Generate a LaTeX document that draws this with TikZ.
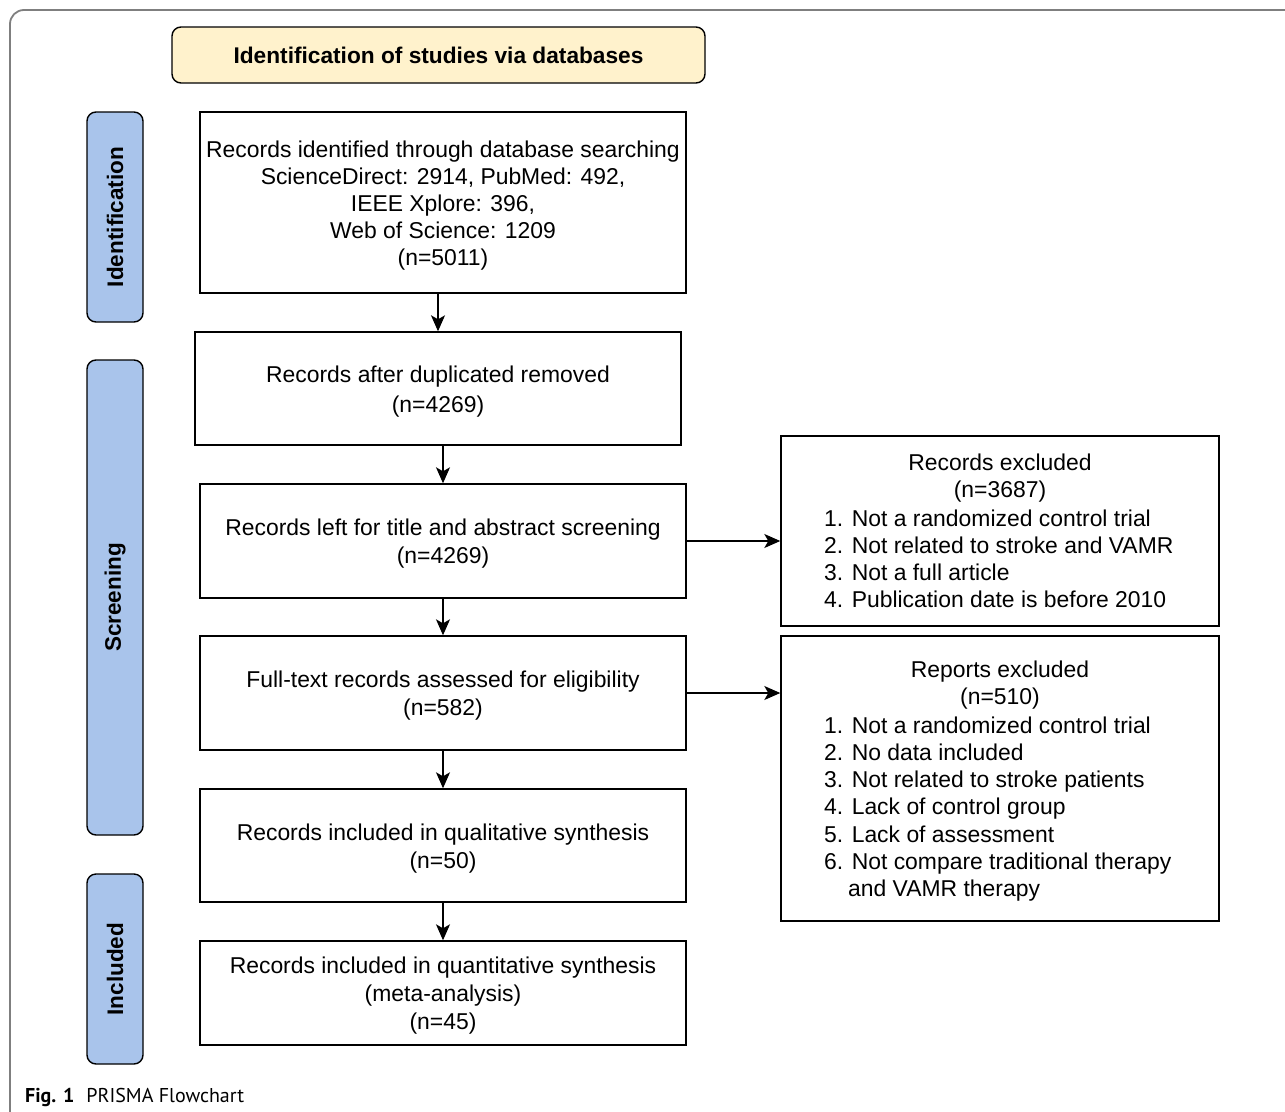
\documentclass[tikz,border=0pt]{standalone}
\usepackage{fontspec}
\setmainfont{Liberation Sans}
\newfontfamily\capfont{PT Sans}
\usetikzlibrary{arrows.meta}
\definecolor{hdrfill}{HTML}{FFF2CC}
\definecolor{sidefill}{HTML}{A9C4EB}
\definecolor{framegray}{HTML}{7F7F7F}
\begin{document}
\begin{tikzpicture}[x=1pt,y=-1pt,
  box/.style={draw=black, line width=1.4pt, rectangle, inner sep=0pt},
  hdr/.style={draw=black, line width=1.4pt, rounded corners=9pt, fill=hdrfill, inner sep=0pt,
     font=\fontsize{22.7}{27}\selectfont\bfseries},
  side/.style={draw=black, line width=1.4pt, rounded corners=9pt, fill=sidefill, inner sep=0pt,
     minimum width=56pt},
  sidetxt/.style={rotate=90, font=\fontsize{22.5}{27}\selectfont\bfseries, inner sep=0pt},
  txt/.style={inner sep=0pt, font=\fontsize{22.9}{27.2}\selectfont},
  btxt/.style={inner sep=0pt, align=center, font=\fontsize{22.9}{28}\selectfont},
  arr/.style={line width=1.4pt, -{Stealth[length=16pt,width=14pt,inset=4pt]}}
]
\useasboundingbox (0,0) rectangle (1285,1111);
% outer frame
\draw[framegray, line width=1.8pt, rounded corners=14pt] (1310,10) -- (10,10) -- (10,1130);

% header
\node[hdr, minimum width=533pt, minimum height=56pt] (hdr) at (438.5,55) {Identification of studies via databases};

% side labels
\node[side, minimum height=210pt] (sid) at (115,217) {};
\node[sidetxt] (sidt) at (sid.center) {Identification};
\node[side, minimum height=475pt] (ssc) at (115,597.5) {};
\node[sidetxt] (ssct) at (ssc.center) {Screening};
\node[side, minimum height=190pt] (sin) at (115,969) {};
\node[sidetxt] (sint) at (sin.center) {Included};

% main boxes
\node[box, minimum width=486pt, minimum height=181pt] (b1) at (443,202.5) {};
\node[btxt, font=\fontsize{22.9}{27}\selectfont] (b1t) at ([yshift=-3.5pt]b1.center)
  {Records identified through database searching\\ScienceDirect: 2914, PubMed: 492,\\IEEE Xplore: 396,\\Web of Science: 1209\\(n=5011)};
\node[box, minimum width=486pt, minimum height=113pt] (b2) at (438,388.5) {};
\node[btxt, font=\fontsize{22.9}{30}\selectfont] (b2t) at ([yshift=-3pt]b2.center)
  {Records after duplicated removed\\(n=4269)};
\node[box, minimum width=486pt, minimum height=114pt] (b3) at (443,541) {};
\node[btxt] (b3t) at ([yshift=-3pt]b3.center)
  {Records left for title and abstract screening\\(n=4269)};
\node[box, minimum width=486pt, minimum height=114pt] (b4) at (443,693) {};
\node[btxt] (b4t) at ([yshift=-3pt]b4.center)
  {Full-text records assessed for eligibility\\(n=582)};
\node[box, minimum width=486pt, minimum height=113pt] (b5) at (443,845.5) {};
\node[btxt] (b5t) at ([yshift=-3pt]b5.center)
  {Records included in qualitative synthesis\\(n=50)};
\node[box, minimum width=486pt, minimum height=104pt] (b6) at (443,993) {};
\node[btxt] (b6t) at ([yshift=-3pt]b6.center)
  {Records included in quantitative synthesis\\(meta-analysis)\\(n=45)};

% exclusion boxes
\node[box, minimum width=438pt, minimum height=190pt] (e1) at (1000,531) {};
\node[txt, align=center] (e1h) at (1000,478) {Records excluded\\(n=3687)};
\node[txt, align=left, anchor=west] (e1l) at (824,559)
  {1. Not a randomized control trial\\2. Not related to stroke and VAMR\\3. Not a full article\\4. Publication date is before 2010};

\node[box, minimum width=438pt, minimum height=285pt] (e2) at (1000,778.5) {};
\node[txt, align=center] (e2h) at (1000,685) {Reports excluded\\(n=510)};
\node[txt, align=left, anchor=west] (e2l) at (824,809)
  {1. Not a randomized control trial\\2. No data included\\3. Not related to stroke patients\\4. Lack of control group\\5. Lack of assessment\\6. Not compare traditional therapy\\\hspace*{24pt}and VAMR therapy};

% arrows
\draw[arr] (b2.north |- b1.south) -- (b2.north);
\draw[arr] (b3.north |- b2.south) -- (b3.north);
\draw[arr] (b3.south) -- (b4.north);
\draw[arr] (b4.south) -- (b5.north);
\draw[arr] (b5.south) -- (b6.north);
\draw[arr] (b3.east) -- (b3.east -| e1.west);
\draw[arr] (b4.east) -- (b4.east -| e2.west);

% caption
\node[anchor=base west, inner sep=0pt, font=\capfont\fontsize{20}{24}\selectfont] (cap) at (25,1102)
  {\textbf{Fig. 1}\hspace{12pt}PRISMA Flowchart};
\end{tikzpicture}
\end{document}
